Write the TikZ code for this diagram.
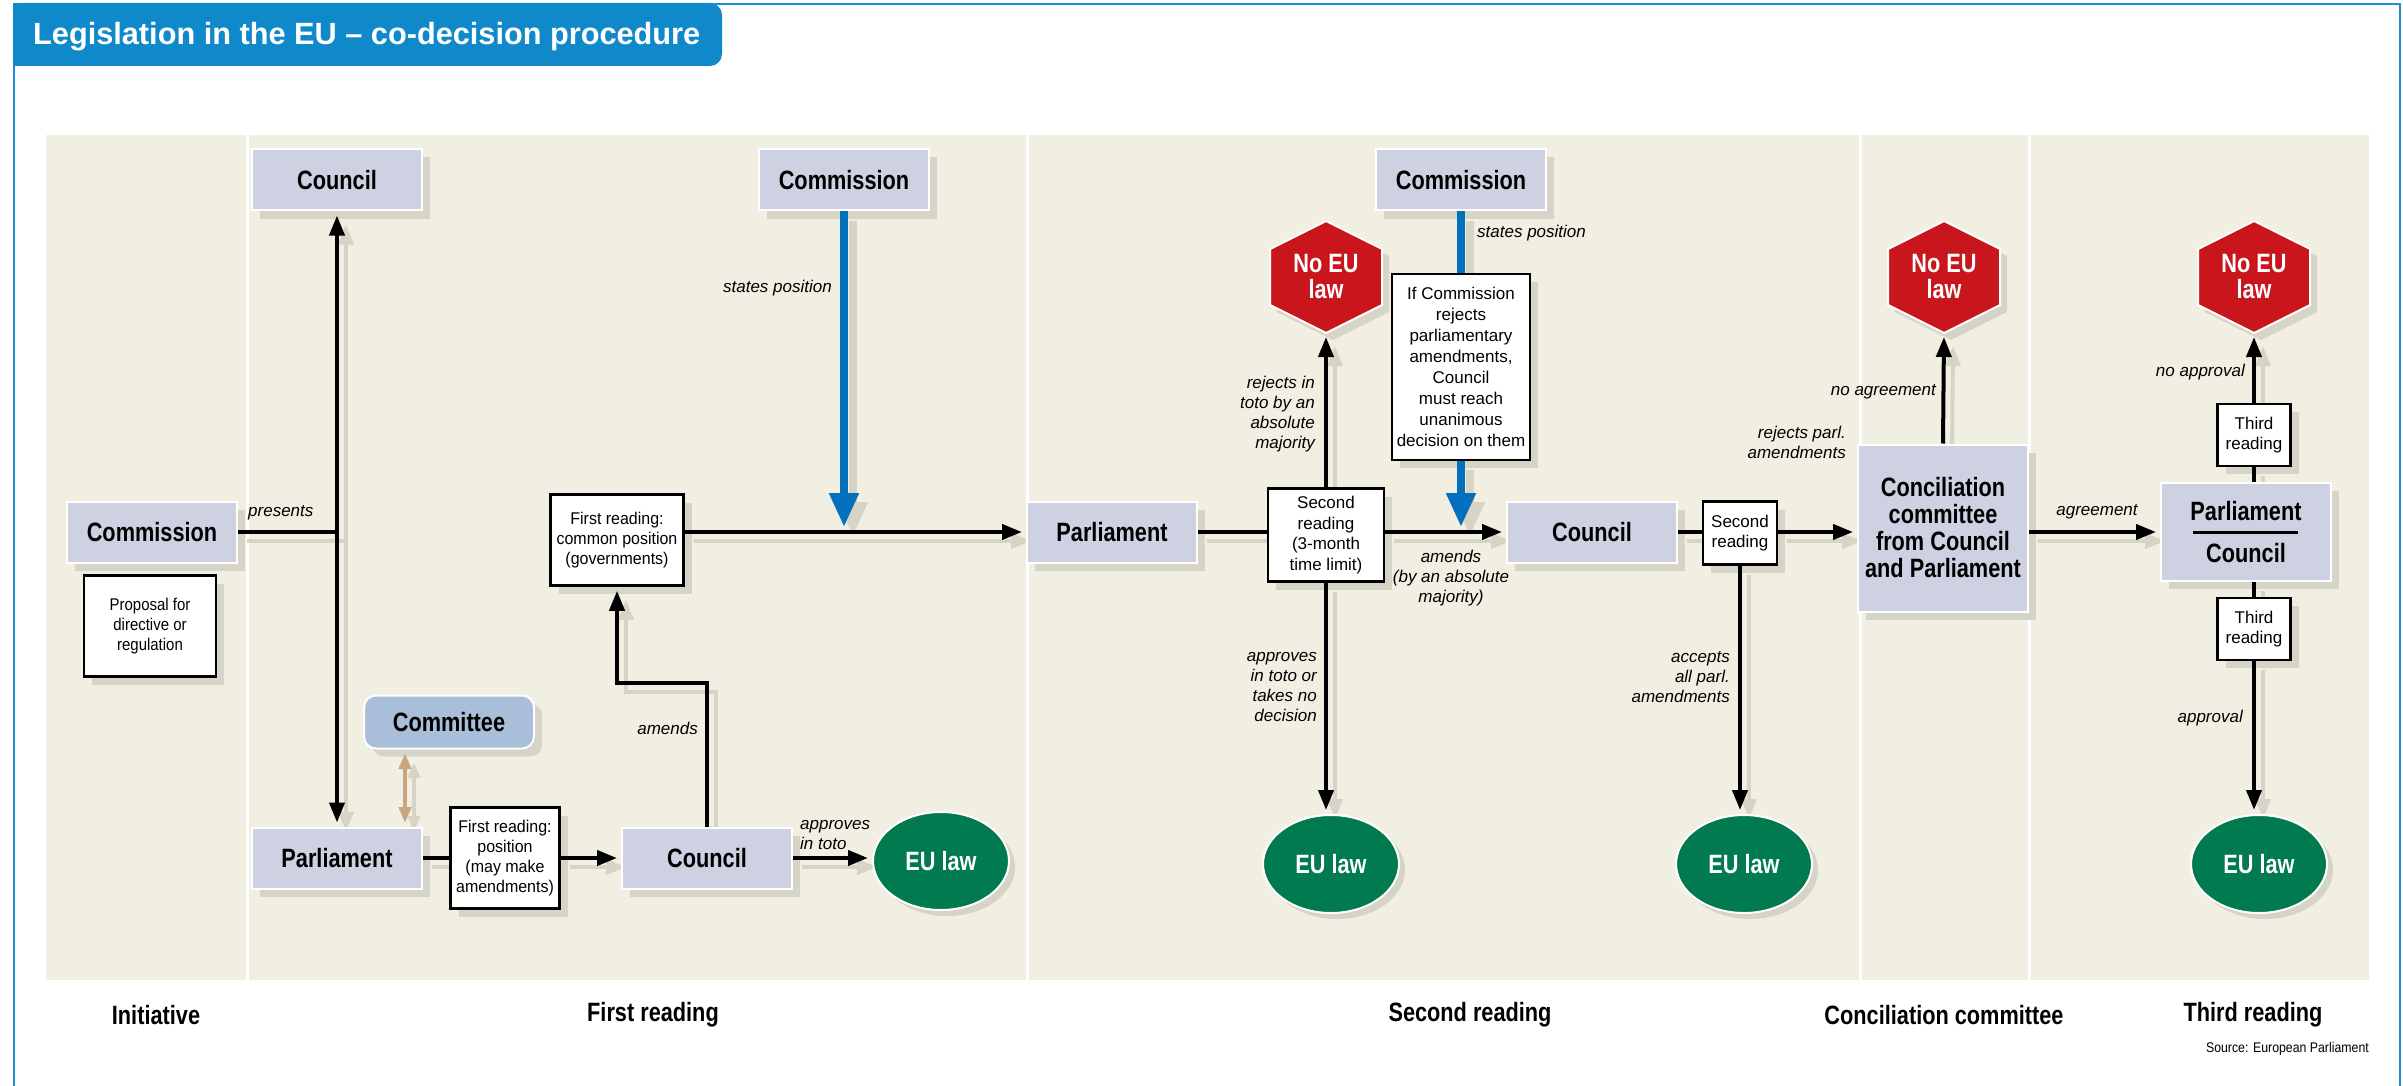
\documentclass[tikz,border=0pt]{standalone}
\usepackage{fontspec}
\setmainfont{Liberation Sans}
\newfontfamily\cnd[FakeStretch=0.82]{Liberation Sans}
\newfontfamily\nrw[FakeStretch=0.94]{Liberation Sans}
\newfontfamily\cnds[FakeStretch=0.88]{Liberation Sans}
\usetikzlibrary{arrows.meta,shapes.geometric,shadows,calc}
\pgfdeclarelayer{bg}\pgfdeclarelayer{lshadow}
\pgfsetlayers{bg,lshadow,main}
\definecolor{panel}{RGB}{241,238,226}
\definecolor{shadowc}{RGB}{214,211,199}
\definecolor{entfill}{RGB}{206,209,225}
\definecolor{comfill}{RGB}{169,190,216}
\definecolor{hexred}{RGB}{200,22,28}
\definecolor{eugreen}{RGB}{0,122,78}
\definecolor{blueA}{RGB}{2,112,188}
\definecolor{tabblue}{RGB}{16,137,203}
\definecolor{framebl}{RGB}{28,144,212}
\definecolor{tanc}{RGB}{201,166,130}
\newcommand\cn[2][]{%
  \begin{pgfonlayer}{lshadow}\draw[line width=4pt,#1,draw=shadowc,transform canvas={shift={(9pt,-9pt)}}] #2;\end{pgfonlayer}%
  \draw[line width=4pt,#1] #2;}
\newcommand\hexa[3]{%
  \filldraw[fill=hexred,draw=white,line width=2pt,drop shadow={shadow xshift=7pt,shadow yshift=-7pt,fill=shadowc,opacity=1}]
    (#2,#3-56) -- (#2+56,#3-28) -- (#2+56,#3+28) -- (#2,#3+56) -- (#2-56,#3+28) -- (#2-56,#3-28) -- cycle;
  \node[hextxt] (#1) at (#2,#3) {No EU\\law};
  \coordinate (#1b) at (#2,#3+56);}
\tikzset{
  shd/.style={drop shadow={shadow xshift=8pt,shadow yshift=-8pt,fill=shadowc,opacity=1}},
  ent/.style={shd,fill=entfill,draw=white,line width=2pt,minimum width=170pt,minimum height=61pt,inner sep=0pt,align=center,font=\cnd\bfseries\fontsize{26.5}{27}\selectfont},
  wbox/.style={shd,fill=white,draw=black,line width=2.5pt,inner sep=0pt,align=center,font=\fontsize{17}{20.5}\selectfont},
  lbl/.style={inner sep=0pt,font=\itshape\fontsize{17}{20}\selectfont},
  sect/.style={inner sep=0pt,font=\cnd\bfseries\fontsize{26.5}{27}\selectfont},
  hextxt/.style={inner sep=0pt,align=center,text=white,font=\cnd\bfseries\fontsize{26.5}{26}\selectfont},
  eul/.style={ellipse,fill=eugreen,draw=white,line width=2pt,minimum width=136pt,minimum height=98pt,inner sep=0pt,text=white,font=\cnd\bfseries\fontsize{26.5}{27}\selectfont,drop shadow={shadow xshift=6pt,shadow yshift=-6pt,fill=shadowc,opacity=1}},
  blk/.style={-{Triangle[length=20pt,width=15pt]},shorten >=4pt},
  dbl/.style={{Triangle[length=20pt,width=15pt]}-{Triangle[length=20pt,width=15pt]},shorten >=4pt,shorten <=4pt},
  tandbl/.style={draw=tanc,{Triangle[length=16pt,width=12pt]}-{Triangle[length=16pt,width=12pt]}},
  bluearr/.style={draw=blueA,line width=8pt,-{Triangle[length=34pt,width=28pt]},shorten >=5pt},
  blueln/.style={draw=blueA,line width=8pt},
}
\begin{document}
\begin{tikzpicture}[x=1pt,y=-1pt]
\useasboundingbox (0,0) rectangle (2403,1086);
\begin{pgfonlayer}{bg}
  \fill[white] (0,0) rectangle (2403,1086);
  \draw[framebl,line width=2.5pt] (14,1086) -- (14,4) -- (2400,4) -- (2400,1086);
  \fill[tabblue,rounded corners=12pt] (13,3) rectangle (722,66);
  \fill[tabblue] (13,3) rectangle (60,66);
  \fill[panel] (46,135) rectangle (2369,980);
  \foreach \xx in {247,1027,1860,2029} \draw[white,line width=3pt] (\xx,135) -- (\xx,980);
\end{pgfonlayer}
\node[anchor=base west,inner sep=0pt,text=white,font=\bfseries\fontsize{30.7}{32}\selectfont] (title) at (33,45) {Legislation in the EU – co-decision procedure};

% Initiative
\node[ent] (cm0) at (152,532) {Commission};
\node[wbox,minimum width=132pt,minimum height=101pt,font=\cnds\fontsize{17}{20}\selectfont] (prop) at (150,626) {Proposal for\\directive or\\regulation};
% First reading
\node[ent] (co1) at (337,180) {Council};
\node[ent] (pa1) at (337,858) {Parliament};
\node[ent,rounded corners=12pt,fill=comfill,minimum height=53pt] (cte) at (449,722) {Committee};
\node[wbox,minimum width=109pt,minimum height=101pt,font=\nrw\fontsize{17}{20}\selectfont] (frp) at (505,858) {First reading:\\position\\(may make\\amendments)};
\node[ent] (co1b) at (707,858) {Council};
\node[eul] (eu1) at (941,861) {EU law};
\node[wbox,minimum width=133pt,minimum height=91pt,font=\nrw\fontsize{17}{20}\selectfont] (fr1) at (617,540) {First reading:\\common position\\(governments)};
\node[ent] (cm1) at (844,180) {Commission};
% Second reading
\node[ent] (pa2) at (1112,532) {Parliament};
\node[wbox,minimum width=116pt,minimum height=93pt] (sr) at (1326,535) {Second\\reading\\(3-month\\time limit)};
\hexa{ne1}{1326}{277}
\node[eul] (eu2) at (1331,864) {EU law};
\node[ent] (cm2) at (1461,180) {Commission};
\node[wbox,minimum width=138pt,minimum height=186pt,font=\fontsize{17}{21}\selectfont] (ifb) at (1461,367) {If Commission\\rejects\\parliamentary\\amendments,\\Council\\must reach\\unanimous\\decision on them};
\node[ent] (co2) at (1592,532) {Council};
\node[wbox,minimum width=74pt,minimum height=63pt] (sr2) at (1740,533) {Second\\reading};
\node[eul] (eu3) at (1744,864) {EU law};
% Conciliation
\node[ent,minimum height=167pt] (conc) at (1943,528) {Conciliation\\committee\\from Council\\and Parliament};
\hexa{ne2}{1944}{277}
% Third reading
\node[ent,minimum height=98pt] (pc) at (2246,532) {};
\node[sect] (pcP) at (2246,511) {Parliament};
\node[sect] (pcC) at (2246,553) {Council};
\draw[line width=3pt] (2193,532) -- (2298,532);
\node[wbox,minimum width=73pt,minimum height=62pt] (tr1) at (2254,435) {Third\\reading};
\node[wbox,minimum width=73pt,minimum height=62pt] (tr2) at (2254,629) {Third\\reading};
\hexa{ne3}{2254}{277}
\node[eul] (eu4) at (2259,864) {EU law};

% connectors
\cn[dbl]{(co1.south) -- (pa1.north)}
\cn{(cm0.east) -- (cm0.east -| co1.south)}
\coordinate (ta) at (405,749);
\coordinate (tb) at (405,827);
\cn[tandbl,shorten <=4pt,shorten >=4pt]{(ta) -- (tb)}
\cn{(pa1.east) -- (frp.west)}
\cn[blk]{(frp.east) -- (co1b.west)}
\cn[blk]{(co1b.east) -- (co1b.east -| eu1.west)}
\coordinate (amb) at (617,683);
\cn[blk]{(co1b.north) |- (amb) -- (fr1.south)}
\cn[blk]{(fr1.east |- pa2.west) -- (pa2.west)}
\cn{(pa2.east) -- (sr.west |- pa2.east)}
\cn[blk]{(sr.east |- co2.west) -- (co2.west)}
\cn[blk]{(sr.north) -- (ne1b)}
\cn[blk]{(sr.south) -- (sr.south |- eu2.north)}
\cn{(co2.east) -- (sr2.west |- co2.east)}
\cn[blk]{(sr2.east |- co2.east) -- (co2.east -| conc.west)}
\cn[blk]{(sr2.south) -- (sr2.south |- eu3.north)}
\cn[blk]{(conc.north) -- (ne2b)}
\cn[blk]{(conc.east |- pc.west) -- (pc.west)}
\cn{(tr1.south |- pc.north) -- (tr1.south)}
\cn[blk]{(tr1.north) -- (ne3b)}
\cn{(tr2.north |- pc.south) -- (tr2.north)}
\cn[blk]{(tr2.south) -- (tr2.south |- eu4.north)}
\cn[bluearr]{(cm1.south) -- (cm1.south |- pa2.west)}
\cn[blueln]{(cm2.south) -- (ifb.north)}
\cn[bluearr]{(ifb.south) -- (ifb.south |- co2.west)}

% labels
\node[lbl,anchor=west] (lpres) at (248,513) {presents};
\node[lbl,anchor=east] (lsp1) at (832,288) {states position};
\node[lbl,anchor=east] (lam1) at (698,728) {amends};
\node[lbl,anchor=west,align=left] (lapp1) at (800,835) {approves\\in toto};
\node[lbl,anchor=east,align=right] (lrej) at (1315,414) {rejects in\\toto by an\\absolute\\majority};
\node[lbl,anchor=east,align=right] (lapp2) at (1317,687) {approves\\in toto or\\takes no\\decision};
\node[lbl,anchor=west] (lsp2) at (1477,233) {states position};
\node[lbl,align=center] (lam2) at (1451,578) {amends\\(by an absolute\\majority)};
\node[lbl,anchor=east,align=right] (lrejp) at (1846,442) {rejects parl.\\amendments};
\node[lbl,anchor=east,align=right] (lacc) at (1730,677) {accepts\\all parl.\\amendments};
\node[lbl,anchor=east] (lnoag) at (1936,392) {no agreement};
\node[lbl] (lag) at (2097,512) {agreement};
\node[lbl,anchor=east] (lnoap) at (2245,372) {no approval};
\node[lbl,anchor=east] (lap) at (2243,718) {approval};

% section labels
\node[sect] (s1) at (156,1015) {Initiative};
\node[sect] (s2) at (653,1015) {First reading};
\node[sect] (s3) at (1470,1015) {Second reading};
\node[sect] (s4) at (1944,1015) {Conciliation committee};
\node[sect] (s5) at (2253,1015) {Third reading};
\node[inner sep=0pt,anchor=east,font=\cnds\fontsize{14}{16}\selectfont] (src) at (2369,1049) {Source: European Parliament};
\end{tikzpicture}
\end{document}
